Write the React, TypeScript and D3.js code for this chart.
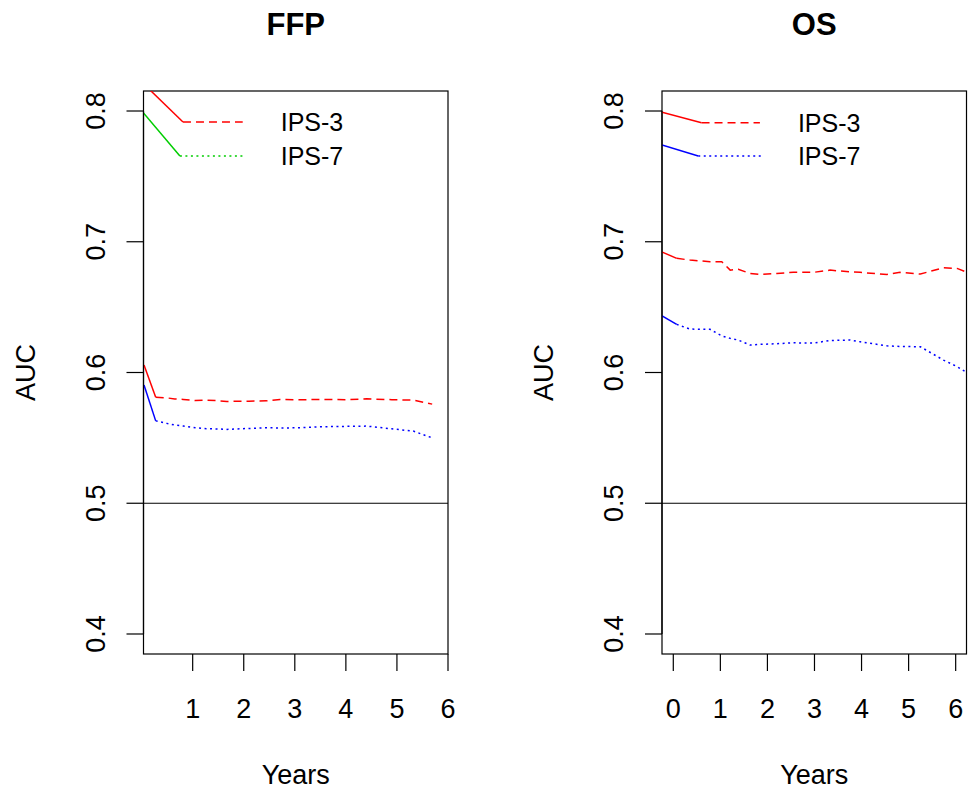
import React from "react";
import * as d3 from "d3";

// time (years) and AUC
const ffpT = [0.047, 0.276, 0.49, 0.65, 0.816, 1.05, 1.27, 1.5, 1.67, 2.1, 2.45, 2.71, 3.1, 3.49, 4.0, 4.41, 4.9, 5.32, 5.69];
const ffpIps3 = [0.6057, 0.581, 0.5806, 0.5798, 0.5794, 0.5786, 0.5789, 0.5784, 0.5779, 0.5781, 0.5783, 0.5794, 0.5791, 0.5794, 0.5792, 0.5799, 0.5792, 0.5789, 0.5758];
const ffpIps7 = [0.5904, 0.563, 0.5611, 0.5598, 0.559, 0.5577, 0.557, 0.5568, 0.5565, 0.5572, 0.5577, 0.5576, 0.5577, 0.5585, 0.5588, 0.559, 0.5569, 0.5552, 0.55];

const osT = [-0.247, 0.072, 0.355, 0.78, 1.03, 1.21, 1.38, 1.63, 1.84, 2.2, 2.55, 2.98, 3.33, 3.76, 3.97, 4.54, 4.82, 5.25, 5.74, 6.03, 6.24];
const osIps3 = [0.6923, 0.6873, 0.686, 0.6847, 0.6847, 0.6783, 0.6789, 0.6758, 0.675, 0.6758, 0.6766, 0.6766, 0.6783, 0.677, 0.6766, 0.675, 0.6766, 0.6753, 0.6801, 0.6796, 0.6766];
const osIps7 = [0.6434, 0.6368, 0.6332, 0.633, 0.628, 0.6261, 0.6248, 0.621, 0.6215, 0.622, 0.6227, 0.6225, 0.6245, 0.6248, 0.6235, 0.6204, 0.6199, 0.6197, 0.6095, 0.6045, 0.5998];

// legend keys: [x, y] pairs in data units (lead-in then styled part)
const ffpKey3 = [[0.037, 0.8209], [0.81, 0.7916], [1.98, 0.7916]];
const ffpKey7 = [[0.037, 0.7985], [0.75, 0.7656], [1.98, 0.7656]];
const osKey3 = [[-0.24, 0.799], [0.6, 0.791], [1.84, 0.791]];
const osKey7 = [[-0.24, 0.774], [0.53, 0.7656], [1.86, 0.7656]];

const yTicks = [0.4, 0.5, 0.6, 0.7, 0.8];
const ffpXTicks = [1, 2, 3, 4, 5, 6];
const osXTicks = [0, 1, 2, 3, 4, 5, 6];

const font = "'Liberation Sans', Arial, sans-serif";
const DASH = "8,5";
const DOT = "2,3.5";

type Pt = [number, number];

function Panel(props: {
  id: string; title: string; left: number; right: number; xDomain: [number, number];
  xTicks: number[]; t: number[]; a: number[]; b: number[]; colA: string; colB: string; colKeyB: string;
  keyA: number[][]; keyB: number[][];
}) {
  const top = 91, bottom = 654;
  const x = d3.scaleLinear().domain(props.xDomain).range([props.left, props.right]);
  const y = d3.scaleLinear().domain([0.3847, 0.8153]).range([bottom, top]);
  const line = d3.line<Pt>().x(d => x(d[0])).y(d => y(d[1]));
  const cx = (props.left + props.right) / 2;
  const cy = (top + bottom) / 2;

  const twoPart = (pts: Pt[], col: string, dash: string, key: string) => (
    <g key={key} clipPath={`url(#${props.id})`} fill="none" stroke={col} strokeWidth={1.5}>
      <path d={line(pts.slice(0, 2)) || ""} />
      <path d={line(pts.slice(1)) || ""} strokeDasharray={dash} />
    </g>
  );

  const seriesA = props.t.map((v, i) => [v, props.a[i]] as Pt);
  const seriesB = props.t.map((v, i) => [v, props.b[i]] as Pt);
  const legendX = x(props.keyA[2][0]) + 38;

  return (
    <g fontFamily={font}>
      <defs>
        <clipPath id={props.id}>
          <rect x={props.left} y={top} width={props.right - props.left} height={bottom - top} />
        </clipPath>
      </defs>
      <text x={cx} y={35} textAnchor="middle" fontWeight="bold" fontSize={31}>{props.title}</text>
      <rect x={props.left} y={top} width={props.right - props.left} height={bottom - top} fill="none" stroke="#000" strokeWidth={1.2} />
      {twoPart(seriesA, props.colA, DASH, "a")}
      {twoPart(seriesB, props.colB, DOT, "b")}
      {twoPart(props.keyA as Pt[], props.colA, DASH, "ka")}
      {twoPart(props.keyB as Pt[], props.colKeyB, DOT, "kb")}
      <text x={legendX} y={y(props.keyA[2][1]) + 9} fontSize={25}>IPS-3</text>
      <text x={legendX} y={y(props.keyB[2][1]) + 9} fontSize={25}>IPS-7</text>
      <line x1={props.left} x2={props.right} y1={y(0.5)} y2={y(0.5)} stroke="#000" strokeWidth={1.2} />
      {/* y axis */}
      <line x1={props.left} x2={props.left} y1={y(0.4)} y2={y(0.8)} stroke="#000" strokeWidth={1.2} />
      {yTicks.map(v => (
        <g key={v}>
          <line x1={props.left - 17} x2={props.left} y1={y(v)} y2={y(v)} stroke="#000" strokeWidth={1.2} />
          <text transform={`translate(${props.left - 39},${y(v)}) rotate(-90)`} textAnchor="middle" fontSize={27}>{v.toFixed(1)}</text>
        </g>
      ))}
      {/* x axis */}
      {props.xTicks.map(v => (
        <g key={v}>
          <line x1={x(v)} x2={x(v)} y1={bottom} y2={bottom + 17} stroke="#000" strokeWidth={1.2} />
          <text x={x(v)} y={718} textAnchor="middle" fontSize={27}>{v}</text>
        </g>
      ))}
      <text x={cx} y={784} textAnchor="middle" fontSize={27}>Years</text>
      <text transform={`translate(${props.left - 109},${cy}) rotate(-90)`} textAnchor="middle" fontSize={27}>AUC</text>
    </g>
  );
}

export default function App() {
  return (
    <svg width={971} height={794} style={{ position: "absolute", left: 0, top: 0, background: "#fff" }}>
      <rect width={971} height={794} fill="#fff" />
      <Panel id="clipFfp" title="FFP" left={143.5} right={448} xDomain={[0.037, 6]} xTicks={ffpXTicks}
        t={ffpT} a={ffpIps3} b={ffpIps7} colA="#ff0000" colB="#0000ff" colKeyB="#00cd00" keyA={ffpKey3} keyB={ffpKey7} />
      <Panel id="clipOs" title="OS" left={662} right={966.5} xDomain={[-0.24, 6.23]} xTicks={osXTicks}
        t={osT} a={osIps3} b={osIps7} colA="#ff0000" colB="#0000ff" colKeyB="#0000ff" keyA={osKey3} keyB={osKey7} />
    </svg>
  );
}
